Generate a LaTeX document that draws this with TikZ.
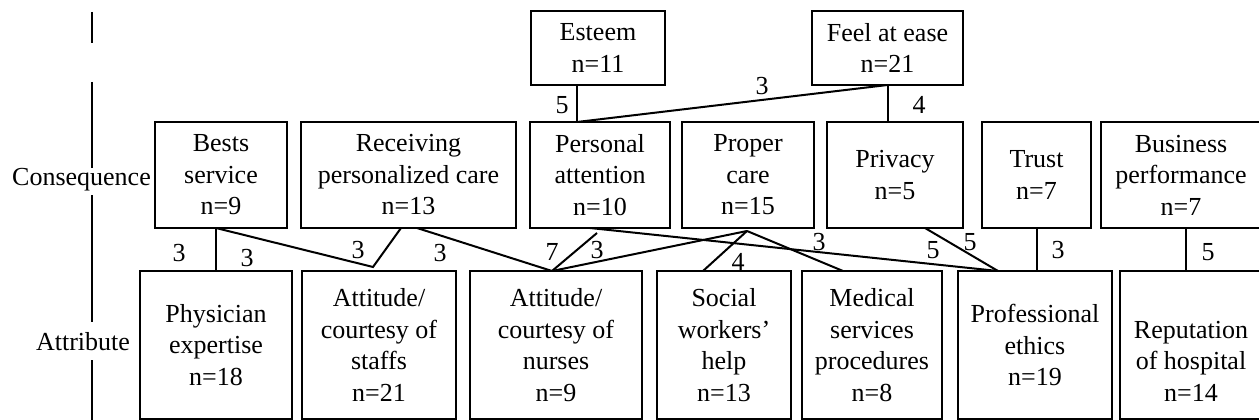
\documentclass[tikz,border=0pt]{standalone}
\usepackage{fontspec}
\setmainfont{Liberation Serif}
\begin{document}
\begin{tikzpicture}[x=1pt,y=-1pt,
  txt/.style={font=\fontsize{26}{31.5}\selectfont},
  box/.style={draw, line width=2pt, align=center, inner sep=0pt, outer sep=0pt, txt},
  link/.style={line width=2pt},
  num/.style={txt, inner sep=0pt},
  axislabel/.style={txt, inner sep=0pt}]
\useasboundingbox (0,0) rectangle (1259,420);
\clip (0,0) rectangle (1259,420);

% level axis
\draw[link] (92,12) -- (92,43);
\draw[link] (92,82) -- (92,168);
\draw[link] (92,195) -- (92,322);
\draw[link] (92,360) -- (92,420);
\node[axislabel] (lvl-cons) at (81.5,180) {Consequence};
\node[axislabel] (lvl-attr) at (83,342) {Attribute};

% top consequences
\node[box, minimum width=134pt, minimum height=74pt] (esteem) at (598,48) {Esteem\\n=11};
\node[box, minimum width=151pt, minimum height=74pt] (ease) at (887.5,48) {Feel at ease\\n=21};

% consequences
\node[box, minimum width=132pt, minimum height=106pt] (bests) at (221,175) {Bests\\service\\n=9};
\node[box, minimum width=215pt, minimum height=106pt] (recv) at (408.5,175) {Receiving\\personalized care\\n=13};
\node[box, minimum width=140pt, minimum height=106pt] (pers) at (600,175) {Personal\\attention\\n=10};
\node[box, minimum width=132pt, minimum height=106pt] (proper) at (748,175) {Proper\\care\\n=15};
\node[box, minimum width=136pt, minimum height=106pt] (privacy) at (895,175) {Privacy\\n=5};
\node[box, minimum width=109pt, minimum height=106pt] (trust) at (1036.5,175) {Trust\\n=7};
\node[box, minimum width=160pt, minimum height=106pt] (business) at (1181,175) {Business\\performance\\n=7};

% attributes
\node[box, minimum width=152pt, minimum height=148pt] (phys) at (216,345) {Physician\\expertise\\n=18};
\node[box, minimum width=154pt, minimum height=148pt] (staff) at (379,345) {Attitude/\\courtesy of\\staffs\\n=21};
\node[box, minimum width=172pt, minimum height=148pt] (nurse) at (556,345) {Attitude/\\courtesy of\\nurses\\n=9};
\node[box, minimum width=134pt, minimum height=148pt] (social) at (724,345) {Social\\workers'\\help\\n=13};
\node[box, minimum width=140pt, minimum height=148pt] (medical) at (872,345) {Medical\\services\\procedures\\n=8};
\node[box, minimum width=154pt, minimum height=148pt] (ethics) at (1035,345) {Professional\\ethics\\n=19};
\node[box, minimum width=142pt, minimum height=148pt,
      label={[txt, align=center, inner sep=0pt, yshift=-16pt]center:Reputation\\of hospital\\n=14}] (reput) at (1191,345) {};

% attachment points
\coordinate (pers-top) at ([xshift=-23pt]pers.north);
\coordinate (stf-top) at ([xshift=-6pt,yshift=4pt]staff.north);
\coordinate (recv-b1) at ([xshift=-7.5pt]recv.south);
\coordinate (recv-b2) at ([xshift=8.5pt]recv.south);
\coordinate (nrs-top) at ([xshift=-4pt]nurse.north);
\coordinate (pers-b1) at ([xshift=-3pt,yshift=-5pt]pers.south);
\coordinate (pers-b2) at ([xshift=-10pt]pers.south);
\coordinate (pc-bot) at ([xshift=-1pt,yshift=-3pt]proper.south);
\coordinate (eth-top) at ([xshift=-37pt]ethics.north);
\coordinate (soc-top) at ([xshift=-21pt]social.north);
\coordinate (med-top) at ([xshift=-29pt]medical.north);
\coordinate (prv-bot) at ([xshift=30pt]privacy.south);
\coordinate (bus-bot) at ([xshift=5pt]business.south);

% upper links
\draw[link] (pers-top) -- (pers-top |- esteem.south);
\draw[link] (ease.south) -- (ease.south |- privacy.north);
\draw[link] (ease.south) -- (pers-top);

% lower links
\draw[link] (phys.north |- bests.south) -- (phys.north);
\draw[link] (phys.north |- bests.south) -- (stf-top) -- (recv-b1);
\draw[link] (recv-b2) -- (nrs-top);
\draw[link] (nrs-top) -- (pers-b1);
\draw[link] (nrs-top) -- (pc-bot);
\draw[link] (pers-b2) -- (eth-top);
\draw[link] (pc-bot) -- (soc-top);
\draw[link] (pc-bot) -- (med-top);
\draw[link] (prv-bot) -- (eth-top);
\draw[link] (trust.south) -- (trust.south |- ethics.north);
\draw[link] (bus-bot) -- (bus-bot |- reput.north);

% link counts
\node[num] (n1) at (562,105) {5};
\node[num] (n2) at (919,105) {4};
\node[num] (n3) at (762,86) {3};
\node[num] (n4) at (179,253) {3};
\node[num] (n5) at (247,258) {3};
\node[num] (n6) at (358,250) {3};
\node[num] (n7) at (440,253) {3};
\node[num] (n8) at (552,252) {7};
\node[num] (n9) at (597,250) {3};
\node[num] (n10) at (819,242) {3};
\node[num] (n11) at (738,262) {4};
\node[num] (n12) at (933,250) {5};
\node[num] (n13) at (970,242) {5};
\node[num] (n14) at (1058,250) {3};
\node[num] (n15) at (1208,252) {5};
\end{tikzpicture}
\end{document}
